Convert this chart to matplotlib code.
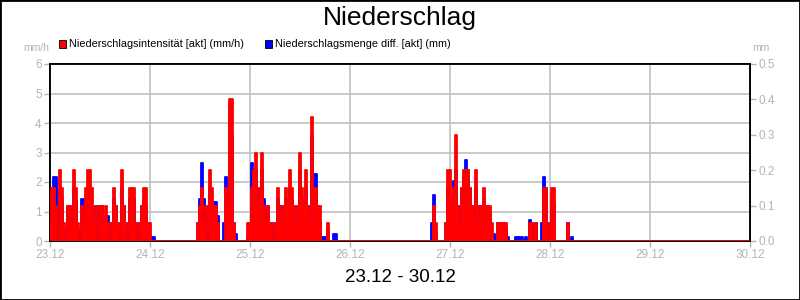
import numpy as np
import matplotlib
matplotlib.use("Agg")
import matplotlib.pyplot as plt
from matplotlib.patches import Rectangle

plt.rcParams['font.family'] = ['Liberation Sans', 'DejaVu Sans']

title = "Niederschlag"
subtitle = "23.12 - 30.12"
day_labels = ["23.12", "24.12", "25.12", "26.12", "27.12", "28.12", "29.12", "30.12"]
left_ticks = [0, 1, 2, 3, 4, 5, 6]
right_ticks = ["0.0", "0.1", "0.2", "0.3", "0.4", "0.5"]
legend_labels = ["Niederschlagsintensität [akt] (mm/h)", "Niederschlagsmenge diff. [akt] (mm)"]

step = 0.02  # days between samples

# segment 1 starts 23.12 00:00
start1 = 0.00
red1 = [0.6, 1.8, 1.8, 1.2, 0, 2.4, 1.8, 0.6, 0, 1.2, 1.2, 0.6, 2.4, 1.8, 0.6, 0, 1.2, 0.6,
        1.8, 2.4, 2.4, 1.8, 0.6, 1.2, 0, 1.2, 1.2, 0.6, 1.2, 0.6, 0, 0.6, 1.8, 1.2, 0.6, 0,
        2.4, 1.2, 0.6, 0, 1.8, 1.8, 1.8, 0.6, 0, 0.6, 1.2, 1.8, 1.8, 0.6, 0.6, 0, 0, 0]
blue1 = [0.05, 0.15, 0.18, 0.18, 0.05, 0.15, 0.12, 0.03, 0.02, 0.1, 0.1, 0.05, 0.15, 0.12,
         0.03, 0.03, 0.12, 0.12, 0.12, 0.15, 0.12, 0.1, 0.05, 0.1, 0.03, 0.1, 0.1, 0.05,
         0.07, 0.07, 0.03, 0.05, 0.12, 0.1, 0.05, 0.03, 0.15, 0.1, 0.05, 0.03, 0.12, 0.12,
         0.12, 0.05, 0.03, 0.05, 0.1, 0.12, 0.1, 0.05, 0.01, 0.01, 0.01, 0]

start2 = 1.46
red2 = [0, 0.6, 1.2, 1.8, 0.6, 1.2, 0, 2.4, 1.8, 1.2, 1.2, 0.6, 0, 0, 0, 1.8, 1.2, 4.8, 4.8,
        0.6, 0, 0, 0, 0, 0, 0, 0.6, 0.6, 1.8, 2.4, 3.0, 1.2, 1.8, 3.0, 1.2, 0.6, 1.2, 0.6,
        0.6, 0, 0.6, 1.8, 1.2, 0.6, 1.2, 1.8, 1.2, 2.4, 1.8, 1.2, 0.6, 1.2, 3.0, 1.8, 1.2,
        2.4, 1.2, 0.6, 4.2, 1.8, 1.8, 1.2, 1.2, 0, 0, 0, 0.6, 0, 0, 0, 0, 0]
blue2 = [0, 0.05, 0.12, 0.22, 0.12, 0.1, 0.03, 0.15, 0.12, 0.11, 0.11, 0.07, 0, 0, 0.05,
         0.18, 0.15, 0.38, 0.3, 0.05, 0.02, 0, 0, 0, 0, 0, 0.01, 0.05, 0.22, 0.2, 0.2, 0.1,
         0.15, 0.2, 0.12, 0.07, 0.1, 0.05, 0.05, 0.03, 0.05, 0.12, 0.1, 0.05, 0.1, 0.12,
         0.1, 0.15, 0.12, 0.1, 0.05, 0.1, 0.2, 0.12, 0.1, 0.15, 0.1, 0.05, 0.3, 0.19, 0.19,
         0.1, 0.05, 0.01, 0.01, 0.01, 0.03, 0, 0, 0.02, 0.02, 0]

start3 = 3.80
red3 = [0, 0, 1.2, 0.6, 0, 0, 0, 0, 0.6, 2.4, 2.4, 1.2, 1.8, 3.6, 1.2, 0.6, 1.8, 2.4, 2.4,
        2.4, 1.8, 1.2, 0.6, 2.4, 1.2, 0.6, 1.2, 1.8, 1.2, 1.2, 1.2, 0.6, 0, 0, 0.6, 0.6,
        0.6, 0.6, 0.6, 0, 0, 0, 0, 0, 0, 0, 0, 0, 0, 0, 0.6, 0.6, 0, 0.6, 0, 0, 0, 1.8,
        1.8, 0, 0.6, 1.8, 1.8, 0, 0, 0, 0, 0, 0, 0.6, 0, 0, 0]
blue3 = [0, 0.05, 0.13, 0.02, 0, 0, 0, 0, 0.05, 0.15, 0.12, 0.1, 0.17, 0.2, 0.1, 0.05,
         0.15, 0.18, 0.23, 0.2, 0.15, 0.1, 0.05, 0.15, 0.1, 0.05, 0.1, 0.12, 0.1, 0.1,
         0.08, 0.02, 0.02, 0.01, 0.05, 0.05, 0.05, 0.05, 0.03, 0.01, 0, 0, 0, 0.01, 0.01,
         0.01, 0.01, 0, 0.01, 0, 0.06, 0.05, 0.03, 0.05, 0, 0, 0.05, 0.18, 0.15, 0.05,
         0.05, 0.12, 0.1, 0, 0, 0, 0, 0, 0, 0.05, 0, 0.01, 0]


def series(segments):
    t, v = [], []
    for start, vals in segments:
        t.extend(start + step * np.arange(len(vals)))
        v.extend(vals)
    t.append(7.0)
    v.append(0.0)
    return np.array(t), np.array(v)


tr, vr = series([(start1, red1), (start2, red2), (start3, red3)])
tb, vb = series([(start1, blue1), (start2, blue2), (start3, blue3)])

W, H = 800, 300
fig = plt.figure(figsize=(W / 100, H / 100), dpi=100)
ax = fig.add_axes([50 / W, 59 / H, 700 / W, 177 / H])
ax2 = ax.twinx()

ax.set_xlim(0, 7)
ax.set_ylim(0, 6)
ax2.set_ylim(0, 0.5)

gray = "#b4b4b4"
ax.grid(True, color="#c0c0c0", linewidth=1.2, zorder=0)
ax.set_axisbelow(True)

blue = "#0000ff"
red = "#ff0000"
ax.fill_between(tb, vb, step="mid", transform=ax2.transData, color=blue, linewidth=0, zorder=2)
ax.plot(tb, vb, transform=ax2.transData, color=blue, linewidth=1.3,
        drawstyle="steps-mid", zorder=2)
ax.fill_between(tr, vr, step="mid", color=red, linewidth=0, zorder=3)
ax.plot(tr, vr, color=red, linewidth=1.3, drawstyle="steps-mid", zorder=3)
ax.set_zorder(ax2.get_zorder() + 1)
ax.patch.set_visible(False)

ax.set_xticks(range(len(day_labels)))
ax.set_xticklabels(day_labels)
ax.set_yticks(left_ticks)
ax.set_yticklabels([str(v) for v in left_ticks])
ax2.set_yticks([0.0, 0.1, 0.2, 0.3, 0.4, 0.5])
ax2.set_yticklabels(right_ticks)

for a in (ax, ax2):
    a.tick_params(colors=gray, labelcolor=gray, labelsize=8.5, length=4, width=1, pad=2)
    for s in a.spines.values():
        s.set_color("black")
        s.set_linewidth(1.3)

fig.text(0.5, 1 - 18 / H, title, ha="center", va="center", fontsize=19, color="black")
fig.text(0.5, 1 - 278 / H, subtitle, ha="center", va="center", fontsize=13.5, color="black")
fig.text(23 / W, 1 - 48 / H, "mm/h", ha="left", va="center", fontsize=7.5, color=gray)
fig.text(752 / W, 1 - 48 / H, "mm", ha="left", va="center", fontsize=7.5, color=gray)

for x0, col, lab in [(59, red, legend_labels[0]), (265, blue, legend_labels[1])]:
    fig.patches.append(Rectangle((x0 / W, 1 - 48 / H), 7 / W, 8 / H, transform=fig.transFigure,
                                 facecolor=col, edgecolor="black", linewidth=0.6))
    fig.text((x0 + 10) / W, 1 - 44 / H, lab, ha="left", va="center", fontsize=7.8, color="black")

fig.patches.append(Rectangle((0, 0), 1, 1, transform=fig.transFigure, fill=False,
                             edgecolor="black", linewidth=2))

fig.savefig("out.png", dpi=100)
